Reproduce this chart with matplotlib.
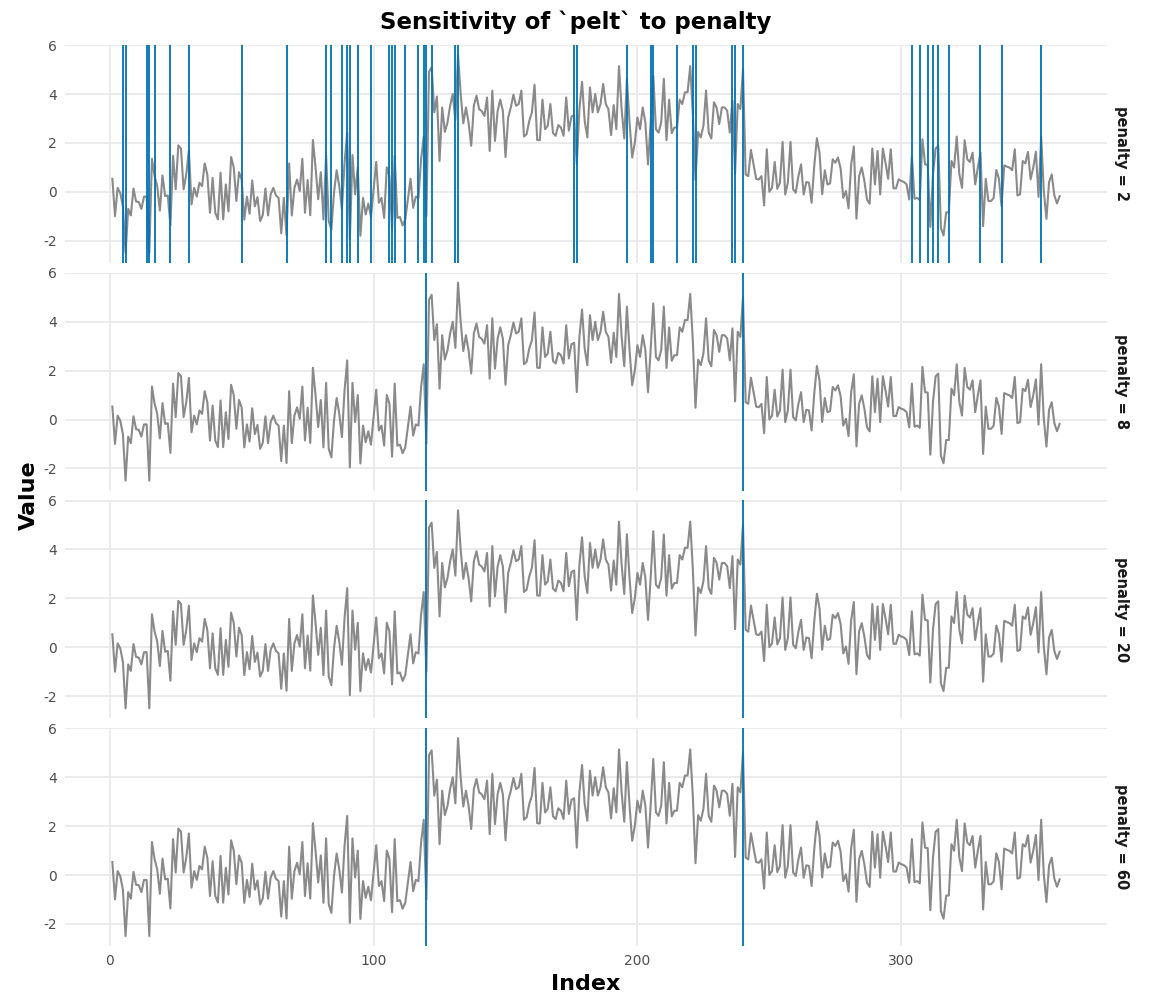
import matplotlib
matplotlib.use("Agg")
import matplotlib.pyplot as plt
import numpy as np

plt.rcParams["axes.unicode_minus"] = False

# ---- data ----
values = [
    0.53, -1.0, 0.16, -0.05, -0.6, -2.5, -0.7, -0.97, 0.13, -0.4,
    -0.42, -0.7, -0.2, -0.2, -2.5, 1.35, 0.65, 0.23, -0.77, 0.67,
    -0.18, -0.15, -1.37, 1.47, 0.1, 1.9, 1.77, 0.1, 0.7, 1.7,
    -0.52, 0.16, -0.2, 0.37, 0.23, 1.16, 0.7, -0.86, 0.57, -0.86,
    -1.13, 0.78, -1.13, 0.3, -0.8, 1.42, 1.0, -0.38, 0.8, 0.5,
    -1.14, -0.2, -0.9, 0.46, -0.6, -0.22, -1.2, -0.96, 0.13, -0.97,
    -0.1, 0.16, -0.15, -0.25, -1.7, -0.25, -1.78, 1.16, -0.97, 0.16,
    0.5, 0.03, 1.35, -0.86, 0.48, -0.96, 2.12, 1.0, -0.31, 0.8,
    -1.14, 1.5, -1.2, -1.55, -0.04, 0.88, 0.23, -0.72, 1.2, 2.42,
    -1.96, 1.5, -0.1, 1.0, -1.8, -0.25, -0.93, -0.48, -1.03, 0.1,
    1.22, -0.45, -0.25, -1.07, 1.0, 0.65, -1.52, 1.47, -1.07, -1.03,
    -1.38, -1.14, -0.31, 0.53, -0.66, -0.2, -0.25, 1.33, 2.26, -1.0,
    4.9, 5.1, 3.25, 3.9, 1.26, 3.45, 2.45, 2.83, 3.52, 4.0,
    2.93, 5.6, 4.0, 2.8, 3.45, 2.83, 1.88, 3.52, 3.93, 3.38,
    3.3, 3.1, 3.86, 1.67, 4.14, 2.08, 3.3, 3.77, 3.3, 1.42,
    3.04, 3.45, 3.97, 3.52, 3.59, 4.14, 2.26, 2.36, 2.9, 3.25,
    4.38, 2.12, 2.11, 3.77, 2.56, 2.7, 3.59, 2.4, 2.29, 2.73,
    2.63, 2.29, 3.86, 2.5, 3.08, 3.14, 1.12, 3.38, 4.5, 2.9,
    2.22, 4.27, 3.25, 4.0, 3.25, 3.59, 4.41, 3.59, 3.38, 2.32,
    3.55, 2.56, 5.14, 3.38, 2.18, 4.62, 2.84, 1.4, 2.01, 3.04,
    2.56, 3.45, 2.84, 1.12, 2.84, 4.75, 2.56, 2.42, 2.84, 4.62,
    2.11, 3.77, 2.4, 2.63, 2.63, 3.77, 3.59, 4.07, 4.07, 5.14,
    3.18, 0.48, 2.45, 2.22, 2.7, 4.14, 2.42, 2.18, 3.66, 3.45,
    2.77, 3.45, 3.45, 3.32, 2.42, 3.73, 0.74, 3.59, 3.38, 5.03,
    0.71, 0.64, 1.71, 1.12, 0.53, 0.5, 0.64, -0.56, 1.74, 0.0,
    0.16, 1.22, 0.12, 0.37, 2.04, -0.11, 0.37, 2.04, 0.1, -0.04,
    0.64, 1.12, -0.11, 0.4, 0.37, -0.45, 1.05, 2.19, 1.6, -0.1,
    0.88, 0.3, 0.34, 1.33, 1.19, 1.4, 0.95, -0.25, 0.03, -0.68,
    1.12, 1.85, -1.1, 0.64, 0.99, 0.44, -0.32, -0.49, 1.77, 0.3,
    1.67, -0.11, 1.77, 1.19, 0.53, 1.74, 0.14, 0.14, 0.51, 0.44,
    0.4, 0.3, -0.32, 1.47, -0.29, -0.25, -0.34, 2.15, 1.12, 1.1,
    -1.44, 0.71, 1.77, 1.88, -1.48, -1.79, -0.84, -0.84, 1.26, 0.99,
    2.26, 0.71, 0.16, 2.11, 1.33, 1.22, 1.6, 0.3, 0.99, 1.6,
    -1.41, 0.53, -0.38, -0.38, -0.25, 0.89, 0.53, -0.59, 1.08, 1.03,
    0.99, 0.88, 1.74, -0.15, -0.11, 1.26, 1.16, 1.63, 0.51, 0.99,
    1.64, -0.21, 2.26, 0.03, -1.11, 0.4, 0.71, -0.15, -0.48, -0.18,
]
index = np.arange(1, len(values) + 1)

penalties = [2, 8, 20, 60]
cpts_pen2 = [5, 6, 14, 15, 17, 23, 30, 50, 67, 82, 84, 88, 90, 91, 94, 99,
             106, 107, 108, 112, 117, 119, 120, 122, 131, 132, 176, 177,
             196, 205, 206, 215, 221, 222, 236, 237, 240, 304, 307, 310,
             312, 314, 318, 330, 338, 353]
cpts_pen8 = [120, 240]
cpts_pen20 = [120, 240]
cpts_pen60 = [120, 240]
changepoints = [cpts_pen2, cpts_pen8, cpts_pen20, cpts_pen60]

y_ticks = [-2, 0, 2, 4, 6]
x_ticks = [0, 100, 200, 300]
title = "Sensitivity of `pelt` to penalty"

# ---- figure ----
W, H = 1152, 1008
fig = plt.figure(figsize=(W / 100, H / 100), dpi=100)
axes = fig.subplots(4, 1, sharex=True, gridspec_kw=dict(hspace=10 / 218))
fig.subplots_adjust(left=65 / W, right=1107 / W, top=1 - 45 / H, bottom=1 - 946 / H)

lo, hi = min(values), max(values)
pad = 0.05 * (hi - lo)
n = len(values)
xpad = 0.05 * (n - 1)

for ax, pen, cps in zip(axes, penalties, changepoints):
    ax.plot(index, values, color="#8a8a8a", lw=1.5, zorder=2)
    for c in cps:
        ax.axvline(c, color="#0072B2", lw=1.3, zorder=3)
    ax.set_xlim(1 - xpad, n + xpad)
    ax.set_ylim(lo - pad, hi + pad)
    ax.set_yticks(y_ticks)
    ax.set_xticks(x_ticks)
    ax.grid(True, color="#ebebeb", lw=1.4, zorder=0)
    ax.set_axisbelow(True)
    for s in ax.spines.values():
        s.set_visible(False)
    ax.tick_params(length=0, labelcolor="#4d4d4d", labelsize=10, pad=6)
    ax.text((1121 - 65) / (1107 - 65), 0.5, f"penalty = {pen}", rotation=270,
            transform=ax.transAxes, ha="center", va="center",
            fontsize=10.5, fontweight="bold", color="#1a1a1a")

fig.text(0.5, 1 - 22 / H, title, ha="center", va="center",
         fontsize=16.5, fontweight="bold", color="black")
fig.text(29 / W, 1 - 495 / H, "Value", rotation=90, ha="center", va="center",
         fontsize=16, fontweight="bold", color="black")
fig.text(586 / W, 1 - 984 / H, "Index", ha="center", va="center",
         fontsize=16, fontweight="bold", color="black")

fig.savefig("out.png", dpi=100)
